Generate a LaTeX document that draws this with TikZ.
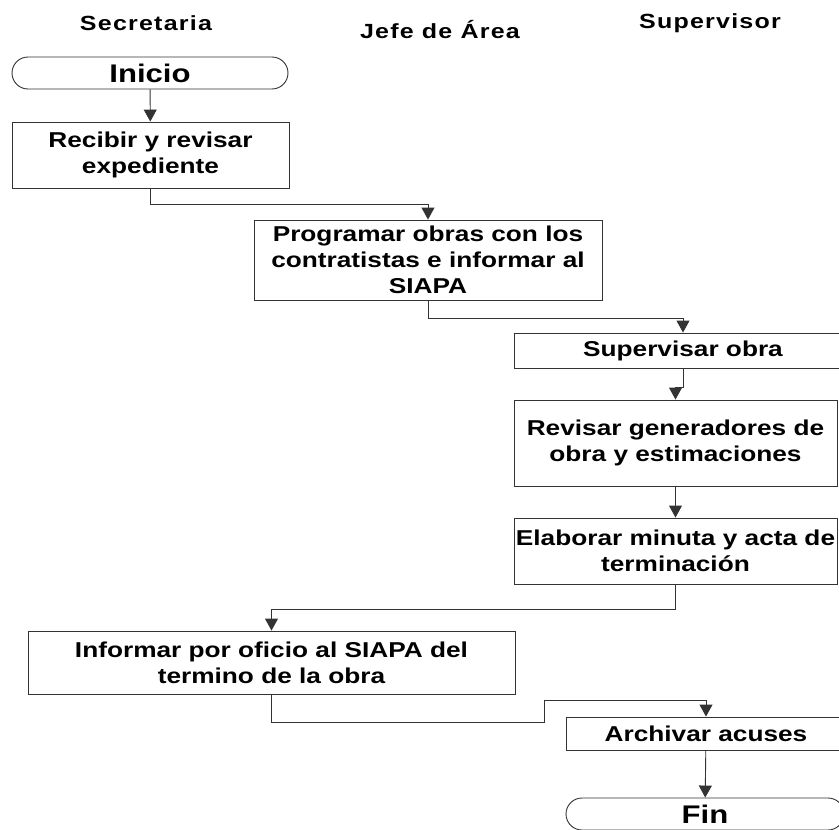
\documentclass[tikz,border=0pt]{standalone}
\usepackage{fontspec}
\setmainfont{Liberation Sans}[FakeStretch=1.22]
\newfontfamily\headfont{Liberation Sans}[FakeStretch=1.22, LetterSpace=6]
\usepackage{tikz}
\usetikzlibrary{shapes.misc, arrows.meta}

\newcommand{\boxfont}{\fontsize{21.5}{26}\selectfont\bfseries}
\newcommand{\termfont}{\fontsize{25.5}{28}\selectfont\bfseries}

\tikzstyle{lane} = [font=\headfont\fontsize{20.5}{24}\selectfont\bfseries]
\tikzstyle{process} = [rectangle, draw=black!80, line width=0.9pt, align=center, inner sep=0pt, font=\boxfont]
\tikzstyle{terminal} = [rounded rectangle, draw=black!80, line width=0.9pt, inner sep=0pt, font=\termfont]
\tikzstyle{arrow} = [line width=0.9pt, draw=black!80, -{Triangle[width=13pt,length=12pt]}]

\begin{document}
\begin{tikzpicture}[x=1pt, y=-1pt]

        \useasboundingbox (0,0) rectangle (839,830);
        \clip (0,0) rectangle (839,830);

        % lanes
        \node (secretaria) [lane] at (146,23) {Secretaria};
        \node (jefe) [lane] at (440,30) {Jefe de Área};
        \node (supervisor) [lane] at (710,23) {Supervisor};

        % steps
        \node (inicio) [terminal, minimum width=276, minimum height=32]
            at (150,73) {Inicio};
        \node (recibir) [process, minimum width=277, minimum height=66]
            at (150.5,155) {Recibir y revisar\\expediente};
        \node (programar) [process, minimum width=348, minimum height=80]
            at (428,260) {Programar obras con los\\contratistas e informar al\\SIAPA};
        \node (supervisar) [process, minimum width=338, minimum height=35]
            at (683,350.5) {Supervisar obra};
        \node (revisar) [process, minimum width=323, minimum height=86]
            at (675.5,443) {Revisar generadores de\\obra y estimaciones};
        \node (elaborar) [process, minimum width=323, minimum height=66]
            at (675.5,551) {Elaborar minuta y acta de\\terminación};
        \node (informar) [process, minimum width=487, minimum height=63]
            at (271.5,662.5) {Informar por oficio al SIAPA del\\termino de la obra};
        \node (archivar) [process, minimum width=280, minimum height=33]
            at (706,733.5) {Archivar acuses};
        \node (fin) [terminal, minimum width=278, minimum height=32]
            at (705,814) {Fin};

        \coordinate (jogdown) at (544,722);
        \coordinate (jogup) at (544,700);

        % arrows
        \draw [arrow] (inicio) -- (recibir);
        \draw [arrow] (recibir.south) -- ++(0,16) -| (programar.north);
        \draw [arrow] (programar.south) -- ++(0,18) -| (supervisar.north);
        \draw [arrow] (supervisar.south) -- ++(0,19) -| (revisar.north);
        \draw [arrow] (revisar) -- (elaborar);
        \draw [arrow] (elaborar.south) -- ++(0,25) -| (informar.north);
        \draw [arrow] (informar.south) |- (jogdown) -- (jogup) -| (archivar.north);
        \draw [arrow] (archivar) -- (fin);

\end{tikzpicture}
\end{document}
